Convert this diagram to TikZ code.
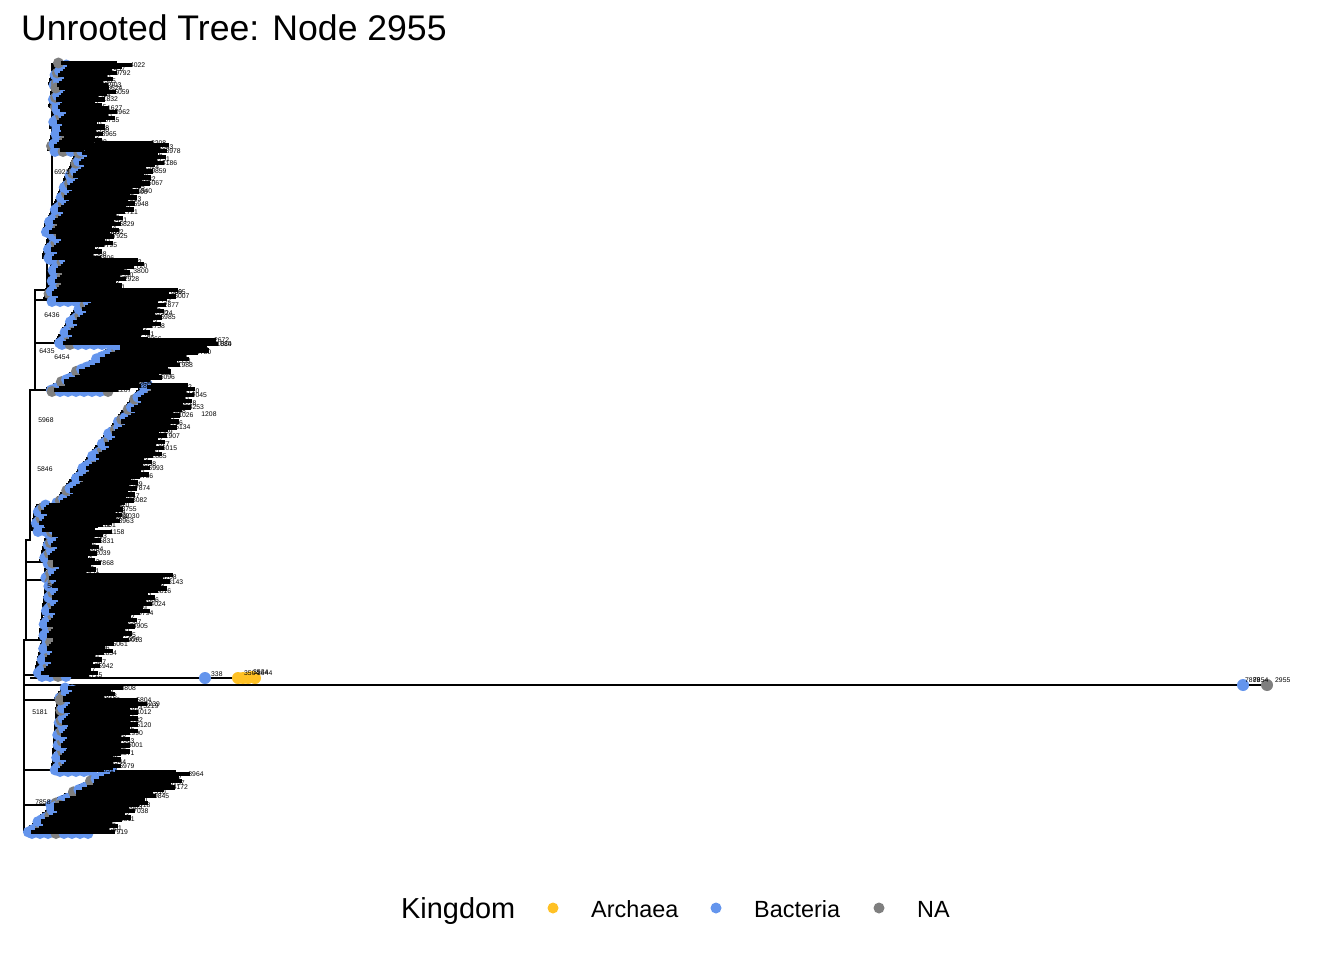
\documentclass[tikz,border=0pt]{standalone}
\usepackage{fontspec}
\setmainfont{Liberation Sans}
\definecolor{arch}{RGB}{255,193,37}
\definecolor{bact}{RGB}{100,149,237}
\definecolor{nagray}{RGB}{127,127,127}
\newcount\drawmode
% ybot ytop xLbot xLtop xRbot xRtop n seed trunkx
\newcommand\clade[9]{%
  \pgfmathtruncatemacro\nmax{#7-1}%
  \foreach \i in {0,...,\nmax}{%
    \pgfmathsetmacro\t{\i/\nmax}%
    \pgfmathsetmacro\y{#1+(#2-#1)*\t}%
    \pgfmathsetmacro\xl{#3+(#4-#3)*\t+(mod(\i*37+#8,17)-8)*0.6}%
    \ifcase\drawmode
      \pgfmathsetmacro\tp{max(\i-1,0)/\nmax}%
      \pgfmathsetmacro\yp{#1+(#2-#1)*\tp}%
      \pgfmathsetmacro\xb{#3-8+(#4-#3)*\t}%
      \pgfmathsetmacro\xbp{#3-8+(#4-#3)*\tp}%
      \draw[branch] (\xl,\y) -- (\xb,\y) -- (\xb,\yp) -- (\xbp,\yp);
    \or
      \pgfmathtruncatemacro\g{mod(\i*7+#8,5)}%
      \ifnum\g=0 \def\dc{nagray}\else\def\dc{bact}\fi
      \fill[\dc] (\xl,\y) circle[radius=5.5];
    \else
      \pgfmathsetmacro\xr{#5+(#6-#5)*\t+(mod(\i*53+#8*7,23)-11)*1.1}%
      \draw[mass] (\xl+3,\y) -- (\xr-13,\y);
      \pgfmathtruncatemacro\odd{mod(\i,2)}%
      \ifnum\odd=0
        \pgfmathtruncatemacro\la{1000+mod(\i*97+#8*13,89)*100+mod(\i*31+#8,97)}%
        \node[tiplab] at (\xr-15,\y) {\la};
      \fi
    \fi
  }%
  \ifnum\drawmode=0
    \draw[branch] (#9,#1) -- (#3-8,#1);
  \fi
  \ifnum\drawmode=1
    \pgfmathtruncatemacro\nb{(#5-28-#3)/8}%
    \foreach \j in {0,...,\nb}{%
      \pgfmathtruncatemacro\gg{mod(\j*3+#8,7)}%
      \ifnum\gg=0 \def\dc{nagray}\else\def\dc{bact}\fi
      \fill[\dc] (#3+\j*8,#1+1.5) circle[radius=5.5];
    }%
  \fi
}
\newcommand\allclades{%
\clade{85}{63}{57}{62}{110}{135}{12}{3}{52}
\clade{107}{88}{57}{60}{105}{120}{11}{5}{52}
\clade{128}{108}{57}{62}{110}{122}{11}{8}{52}
\clade{150}{128}{55}{62}{100}{112}{12}{11}{52}
\clade{232}{143}{50}{88}{120}{178}{45}{2}{47}
\clade{258}{232}{50}{58}{105}{120}{13}{6}{47}
\clade{300}{260}{52}{60}{110}{150}{20}{9}{35}
\clade{343}{290}{62}{95}{150}{182}{26}{4}{35}
\clade{390}{340}{52}{130}{140}{230}{25}{7}{35}
\clade{525}{385}{45}{150}{120}{205}{70}{1}{30}
\clade{530}{505}{38}{45}{100}{135}{12}{10}{30}
\clade{562}{530}{48}{55}{95}{115}{16}{12}{26}
\clade{580}{563}{50}{55}{90}{108}{9}{14}{26}
\clade{640}{575}{47}{55}{130}{178}{30}{13}{26}
\clade{675}{642}{42}{50}{100}{120}{16}{15}{24}
\clade{700}{688}{62}{70}{110}{130}{7}{16}{24}
\clade{770}{700}{60}{65}{125}{150}{35}{17}{24}
\clade{805}{772}{55}{110}{150}{200}{16}{18}{24}
\clade{832}{805}{32}{60}{120}{145}{14}{19}{24}
}
\begin{document}
\begin{tikzpicture}[x=1pt,y=-1pt,
  branch/.style={line width=2pt,black},
  trunk/.style={line width=2.5pt,black},
  mass/.style={line width=4.5pt,black},
  tiplab/.style={font=\fontsize{6.8}{7}\selectfont,inner sep=0pt,anchor=west},
  nodelab/.style={font=\fontsize{6.8}{7}\selectfont,inner sep=0pt},
  legdot/.style={circle,inner sep=0pt,minimum size=11pt},
  treedot/.style={circle,inner sep=0pt,minimum size=12pt},
  legtext/.style={anchor=base west,inner sep=0pt,font=\fontsize{23.4}{25}\selectfont}]
\useasboundingbox (0,0) rectangle (1344,960);

% title
\node[anchor=base west,inner sep=0pt,font=\fontsize{35.6}{40}\selectfont] (title) at (21,41) {Unrooted Tree: Node 2955};

% trunk and long branches
\draw[trunk] (52,63) -- (52,240) -- (47,240) -- (47,290) -- (35,290) -- (35,390)
  -- (30,390) -- (30,540) -- (26,540) -- (26,640) -- (24,640) -- (24,832);
\coordinate (r1) at (24,685);
\coordinate (r2) at (30,678);
\coordinate (p338) at (205,678);
\coordinate (pa1) at (238,678);
\coordinate (pa5) at (255,678);
\coordinate (p7892) at (1243,685);
\coordinate (p2955) at (1267,685);
\draw[branch] (r2) -- (p338) -- (pa1) -- (pa5);
\draw[branch] (r1) -- (p7892) -- (p2955);

% clades: lines, then dots, then labels
\drawmode=0 \allclades
\drawmode=1 \allclades
\node[treedot,fill=bact] (b338) at (p338) {};
\node[treedot,fill=arch] (a1) at (pa1) {};
\node[treedot,fill=arch] (a2) at (243,678) {};
\node[treedot,fill=arch] (a3) at (248,678) {};
\node[treedot,fill=arch] (a4) at (252,677) {};
\node[treedot,fill=arch] (a5) at (pa5) {};
\node[treedot,fill=bact] (b7892) at (p7892) {};
\node[treedot,fill=nagray] (g2955) at (p2955) {};
\drawmode=2 \allclades

% internal node labels
\node[nodelab] (n6923) at (62,172) {6923};
\node[nodelab] (n6436) at (52,315) {6436};
\node[nodelab] (n6435) at (47,351) {6435};
\node[nodelab] (n6454) at (62,357) {6454};
\node[nodelab] (n5968) at (46,420) {5968};
\node[nodelab] (n5846) at (45,469) {5846};
\node[nodelab] (n5428) at (55,586) {5428};
\node[nodelab] (n5181) at (40,712) {5181};
\node[nodelab] (n7858) at (43,802) {7858};
\node[nodelab] (t3800) at (141,271) {3800};
\node[nodelab] (t100) at (142,192) {100};
\node[nodelab] (t724) at (167,313) {724};
\node[nodelab] (t884) at (226,344) {884};
\node[nodelab] (t865) at (180,292) {865};
\node[nodelab] (t978) at (114,286) {978};
\node[nodelab] (t675) at (137,370) {675};
\node[nodelab] (t1208) at (209,414) {1208};
\node[nodelab] (t1030) at (132,516) {1030};
\node[nodelab] (t394) at (134,639) {394};
\node[nodelab] (t3219) at (151,706) {3219};

\node[tiplab] (l338) at (211,674) {338};
\node[tiplab] (la1) at (244,673) {3504};
\node[tiplab] (la3) at (253,672) {3534};
\node[tiplab] (la4) at (257,673) {3644};
\node[tiplab] (l7892) at (1245,680) {7889};
\node[tiplab] (l7854) at (1253,680) {7854};
\node[tiplab] (l2955) at (1275,680) {2955};

% legend
\node[anchor=base west,inner sep=0pt,font=\fontsize{28.9}{30}\selectfont] (legtitle) at (401,918) {Kingdom};
\node[legdot,fill=arch] (kA) at (553,908) {};
\node[legtext] (lA) at (591,917) {Archaea};
\node[legdot,fill=bact] (kB) at (716,908) {};
\node[legtext] (lB) at (754,917) {Bacteria};
\node[legdot,fill=nagray] (kN) at (879,908) {};
\node[legtext] (lN) at (917,917) {NA};
\end{tikzpicture}
\end{document}
